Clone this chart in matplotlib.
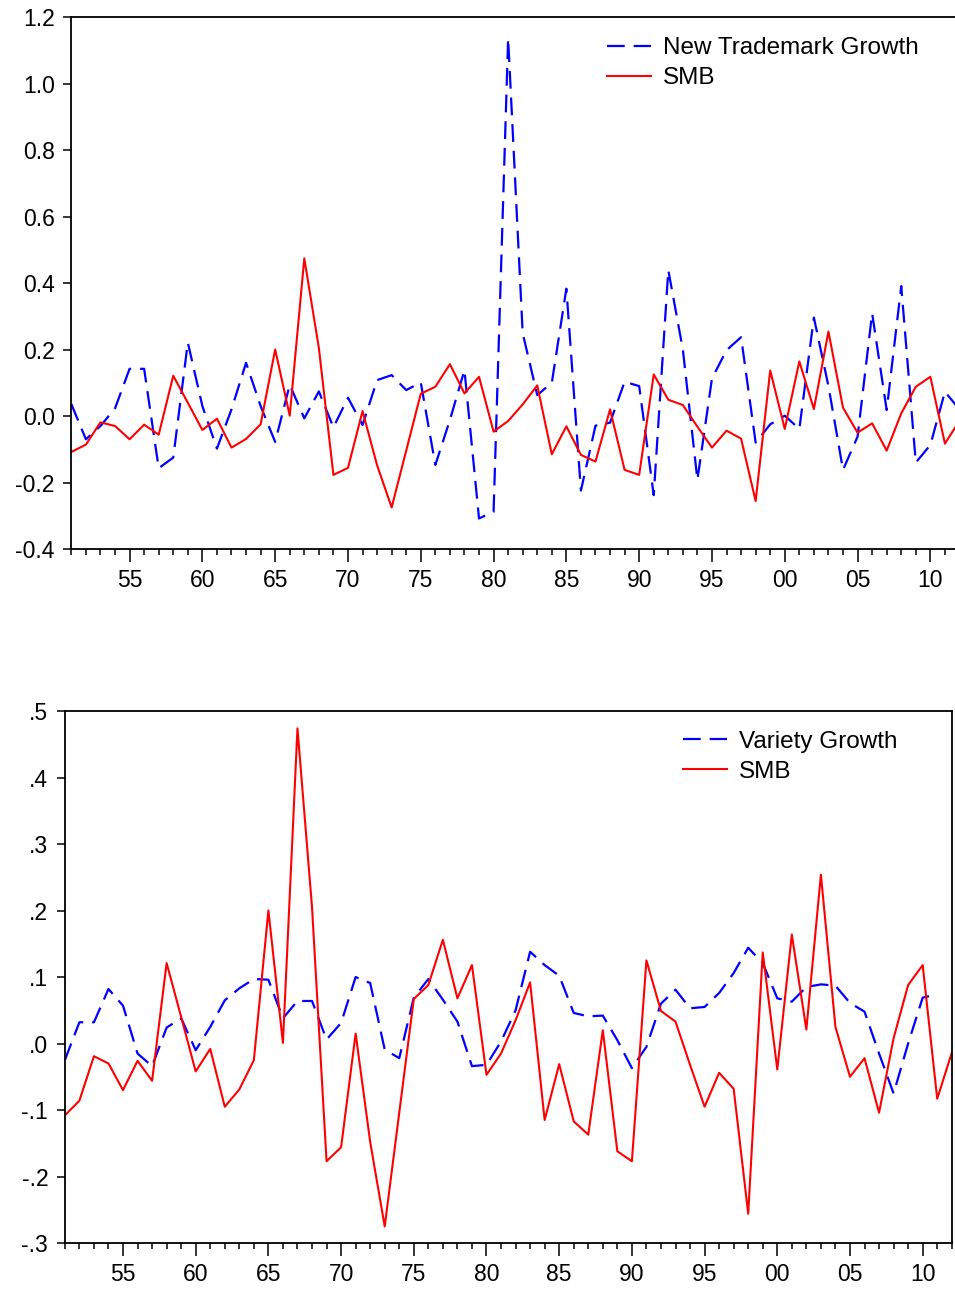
import numpy as np
import matplotlib
matplotlib.use("Agg")
import matplotlib.pyplot as plt
from matplotlib.ticker import MultipleLocator, FuncFormatter

years = np.arange(1951, 2013)

# SMB, 1951-2012 (same series in both panels)
smb = [-0.108, -0.086, -0.019, -0.030, -0.070, -0.026, -0.056, 0.121, 0.040, -0.042,
       -0.008, -0.095, -0.069, -0.025, 0.200, 0.001, 0.474, 0.205, -0.177, -0.156,
       0.015, -0.148, -0.275, -0.104, 0.067, 0.088, 0.156, 0.068, 0.118, -0.047,
       -0.015, 0.035, 0.092, -0.115, -0.031, -0.117, -0.137, 0.020, -0.162, -0.177,
       0.125, 0.049, 0.033, -0.032, -0.095, -0.044, -0.068, -0.256, 0.137, -0.039,
       0.164, 0.021, 0.254, 0.025, -0.050, -0.022, -0.104, 0.008, 0.088, 0.118,
       -0.083, -0.014]

# New trademark growth, 1951-2012
trademark = [0.036, -0.070, -0.030, 0.023, 0.142, 0.142, -0.157, -0.125, 0.221, 0.030,
             -0.098, 0.020, 0.160, 0.030, -0.078, 0.094, -0.007, 0.074, -0.034, 0.055,
             -0.027, 0.108, 0.123, 0.078, 0.101, -0.147, -0.012, 0.138, -0.308, -0.288,
             1.136, 0.249, 0.063, 0.100, 0.383, -0.224, -0.029, -0.020, 0.103, 0.090,
             -0.238, 0.439, 0.200, -0.192, 0.113, 0.198, 0.237, -0.080, -0.025, 0.001,
             -0.039, 0.296, 0.090, -0.162, -0.062, 0.309, 0.018, 0.391, -0.140, -0.087,
             0.073, 0.020]

# Variety growth, 1951-2011
variety = [-0.025, 0.032, 0.032, 0.082, 0.057, -0.015, -0.034, 0.024, 0.038, -0.010,
           0.025, 0.065, 0.083, 0.097, 0.096, 0.038, 0.064, 0.064, 0.006, 0.031,
           0.100, 0.091, -0.009, -0.022, 0.069, 0.097, 0.066, 0.033, -0.034, -0.032,
           0.003, 0.050, 0.138, 0.118, 0.102, 0.046, 0.041, 0.042, 0.005, -0.037,
           -0.005, 0.060, 0.081, 0.053, 0.055, 0.076, 0.106, 0.144, 0.121, 0.068,
           0.063, 0.085, 0.089, 0.087, 0.061, 0.048, -0.015, -0.075, 0.000, 0.069,
           0.074]

plt.rcParams["font.family"] = ["Liberation Sans", "DejaVu Sans"]
plt.rcParams["axes.unicode_minus"] = False

fig = plt.figure(figsize=(9.55, 12.9), dpi=100)


def style_axes(ax, ylo, yhi, ystep, yfmt):
    ax.set_xlim(1951, 2012)
    ax.set_ylim(ylo, yhi)
    ax.xaxis.set_major_locator(MultipleLocator(5))
    ax.xaxis.set_minor_locator(MultipleLocator(1))
    ax.xaxis.set_major_formatter(FuncFormatter(lambda v, p: "%02d" % (int(round(v)) % 100)))
    ax.yaxis.set_major_locator(MultipleLocator(ystep))
    ax.yaxis.set_major_formatter(FuncFormatter(yfmt))
    ax.tick_params(axis="x", which="major", direction="out", length=9, width=1.1,
                   labelsize=16.5, pad=5.5, top=False)
    ax.tick_params(axis="x", which="minor", direction="out", length=4.5, width=1.1, top=False)
    ax.tick_params(axis="y", which="major", direction="out", length=6, width=1.1,
                   labelsize=16.5, pad=6, right=False)
    for s in ax.spines.values():
        s.set_linewidth(1.3)
        s.set_color("black")


# top panel: new trademark growth vs SMB
ax1 = fig.add_axes([0.0747, 0.5744, 0.930, 0.4124])
ax1.plot(years, trademark, color="#0000ff", lw=1.6, dashes=(8, 4), label="New Trademark Growth")
ax1.plot(years, smb, color="#ff0000", lw=1.5, label="SMB")
style_axes(ax1, -0.4, 1.2, 0.2, lambda v, p: "%.1f" % v)
ax1.legend(loc="upper left", bbox_to_anchor=(0.603, 0.962), frameon=False, fontsize=17.5,
           handlelength=1.8, handletextpad=0.5, labelspacing=0.32, borderpad=0, borderaxespad=0)

# bottom panel: variety growth vs SMB
ax2 = fig.add_axes([0.0679, 0.0364, 0.9287, 0.4124])
ax2.plot(years[:len(variety)], variety, color="#0000ff", lw=1.6, dashes=(8, 4), label="Variety Growth")
ax2.plot(years, smb, color="#ff0000", lw=1.5, label="SMB")
style_axes(ax2, -0.3, 0.5, 0.1, lambda v, p: ("%.1f" % v).replace("0.", "."))
ax2.legend(loc="upper left", bbox_to_anchor=(0.697, 0.963), frameon=False, fontsize=17.5,
           handlelength=1.8, handletextpad=0.5, labelspacing=0.32, borderpad=0, borderaxespad=0)

plt.savefig("out.png", dpi=100)
plt.close()
